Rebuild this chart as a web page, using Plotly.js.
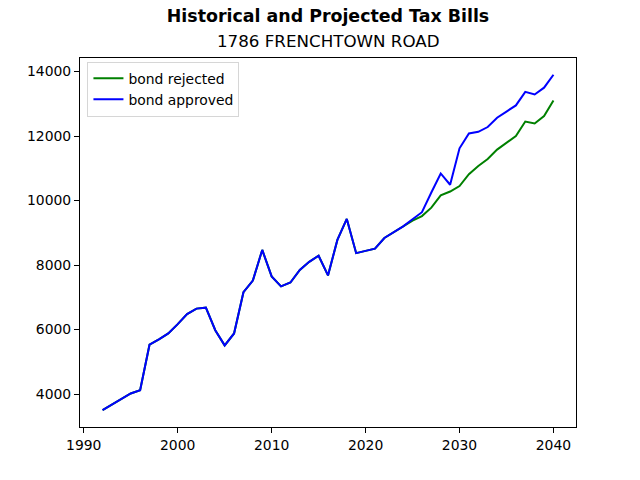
<!DOCTYPE html>
<html>
<head>
<meta charset="utf-8">
<script src="https://cdn.plot.ly/plotly-3.0.1.min.js"></script>
<style>
  html, body { margin: 0; padding: 0; background: #fff; }
  #chart { width: 640px; height: 480px; }
</style>
</head>
<body>
<div id="chart"></div>
<script>
// bills up to now are the same for both scenarios
const historicYears = [1992, 1993, 1994, 1995, 1996, 1997, 1998, 1999, 2000, 2001,
  2002, 2003, 2004, 2005, 2006, 2007, 2008, 2009, 2010, 2011, 2012, 2013, 2014,
  2015, 2016, 2017, 2018, 2019, 2020, 2021, 2022, 2023, 2024]
const historicBills = [3500, 3670, 3860, 4020, 4120, 5530, 5700, 5880, 6170, 6480,
  6650, 6680, 5980, 5510, 5880, 7160, 7520, 8470, 7650, 7340, 7460, 7850, 8100,
  8290, 7680, 8780, 9430, 8370, 8440, 8510, 8840, 9020, 9200]

const projectedYears = [2025, 2026, 2027, 2028, 2029, 2030, 2031, 2032, 2033,
  2034, 2035, 2036, 2037, 2038, 2039, 2040]
const rejectedBills = [9380, 9520, 9780, 10160, 10280, 10450, 10820, 11070, 11290,
  11580, 11800, 12000, 12450, 12390, 12620, 13100]
const approvedBills = [9420, 9640, 10250, 10840, 10490, 11620, 12080, 12130, 12280,
  12570, 12760, 12950, 13370, 13290, 13500, 13900]

const xTicks = [1990, 2000, 2010, 2020, 2030, 2040]
const yTicks = [4000, 6000, 8000, 10000, 12000, 14000]

const FONT = '"DejaVu Sans", sans-serif'

const years = historicYears.concat(projectedYears)

const data = [
  {
    x: years,
    y: historicBills.concat(rejectedBills),
    mode: 'lines',
    name: 'bond rejected',
    line: { color: '#008000', width: 2 },
  },
  {
    x: years,
    y: historicBills.concat(approvedBills),
    mode: 'lines',
    name: 'bond approved',
    line: { color: '#0000ff', width: 2 },
  },
]

const axisCommon = {
  showline: true,
  linecolor: '#000',
  linewidth: 1,
  mirror: true,
  showgrid: false,
  zeroline: false,
  ticks: 'outside',
  ticklen: 5,
  tickwidth: 1,
  tickcolor: '#000',
  tickfont: { family: FONT, size: 13.9, color: '#000' },
}

const layout = {
  width: 640,
  height: 480,
  margin: { l: 80, r: 64, t: 57.6, b: 52.8 },
  paper_bgcolor: '#fff',
  plot_bgcolor: '#fff',
  font: { family: FONT, color: '#000' },
  title: {
    text: '<b>Historical and Projected Tax Bills</b>',
    font: { family: FONT, size: 17.4, color: '#000' },
    x: 0.5,
    xref: 'paper',
    y: 1 - 16 / 480,
    yanchor: 'middle',
  },
  annotations: [{
    text: '1786 FRENCHTOWN ROAD',
    xref: 'paper', yref: 'paper',
    x: 0.5, y: 1,
    yshift: 5,
    xanchor: 'center', yanchor: 'bottom',
    showarrow: false,
    font: { family: FONT, size: 16.7, color: '#000' },
  }],
  xaxis: Object.assign({}, axisCommon, {
    range: [1989.6, 2042.4],
    tickvals: xTicks,
  }),
  yaxis: Object.assign({}, axisCommon, {
    range: [2980, 14420],
    tickvals: yTicks,
    tickformat: 'd',
  }),
  showlegend: true,
  legend: {
    x: 0.015,
    y: 0.99,
    xanchor: 'left',
    yanchor: 'top',
    bgcolor: 'rgba(255,255,255,0.8)',
    bordercolor: '#d6d6d6',
    borderwidth: 1,
    font: { family: FONT, size: 13.9, color: '#000' },
    itemwidth: 30,
    tracegroupgap: 0,
  },
}

const config = {
  displayModeBar: false,
  staticPlot: true,
}

Plotly.newPlot('chart', data, layout, config)
</script>
</body>
</html>
